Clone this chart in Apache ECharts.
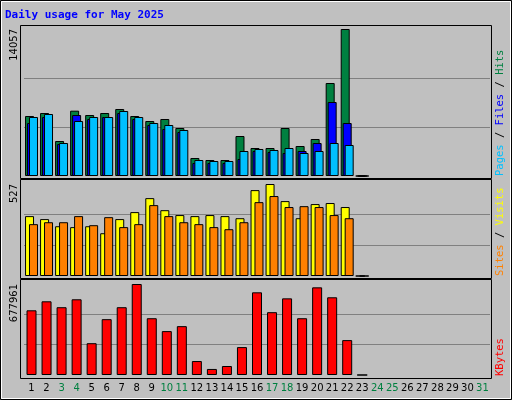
<!DOCTYPE html>
<html>
<head>
<meta charset="utf-8">
<script src="https://cdn.jsdelivr.net/npm/echarts@6.0.0/dist/echarts.min.js"></script>
<style>html,body{margin:0;padding:0;background:#c0c0c0}#chart{width:512px;height:400px}</style>
</head>
<body>
<div id="chart"></div>
<script>
"use strict";

const days = Array.from({length: 31}, (_, i) => String(i + 1));
const weekendDays = ["3", "4", "10", "11", "17", "18", "24", "25", "31"];

const hits  = [5737, 6024, 3346, 6247, 5833, 6024, 6406, 5737, 5259, 5450, 4589, 1721, 1530, 1530, 3824, 2677, 2677, 4589, 2868, 3538, 8892, 14057, 0];
const files = [5067, 5641, 3060, 5833, 5450, 5641, 6024, 5450, 4876, 4494, 4207, 1243, 1243, 1243, 1625, 2390, 2295, 2199, 2390, 3155, 7075, 5067, 0];
const pages = [5641, 5928, 3155, 5259, 5641, 5641, 6215, 5641, 5067, 4876, 4398, 1530, 1434, 1434, 2390, 2582, 2486, 2677, 2199, 2390, 3155, 2964, 0];

const visits = [343, 326, 285, 280, 285, 245, 326, 366, 446, 377, 349, 343, 349, 343, 331, 492, 527, 429, 331, 412, 418, 395, 0];
const sites  = [297, 308, 308, 343, 291, 337, 280, 297, 406, 343, 308, 297, 280, 268, 308, 423, 458, 395, 400, 395, 349, 331, 0];

const kbytes = [482000, 549000, 505000, 564000, 237000, 416000, 505000, 677961, 423000, 327000, 364000, 104000, 45000, 67000, 208000, 616000, 468000, 571000, 423000, 653000, 579000, 260000, 0];

const maxLabels = ["14057", "527", "677961"];
const panelMax = [14057, 527, 677961];

const chart = echarts.init(document.getElementById("chart"));

// grid boxes in pixels: [top, height]
const panels = [[29, 147], [184, 92], [284, 91]];

function xAxis(idx, showLabels) {
    return {
        type: "category", gridIndex: idx, data: days,
        axisLine: {show: false}, axisTick: {show: false},
        axisLabel: {
            show: showLabels, margin: 8, interval: 0,
            fontFamily: "DejaVu Sans", fontSize: 10,
            color: (v) => weekendDays.includes(v) ? "#008040" : "#000"
        }
    };
}

function yAxis(idx) {
    return {
        type: "value", gridIndex: idx, min: 0, max: panelMax[idx], interval: panelMax[idx] / 3,
        axisLabel: {show: false}, axisLine: {show: false}, axisTick: {show: false},
        splitLine: {show: true, lineStyle: {color: ["transparent", "#808080", "#808080", "transparent"], width: 1}}
    };
}

function bars(name, data, color, idx, gap, width) {
    return {
        name, type: "bar", data, xAxisIndex: idx, yAxisIndex: idx,
        barWidth: width, barGap: gap, animation: false,
        itemStyle: {color, borderColor: "#000", borderWidth: 1}
    };
}

function vlabel(x, y, parts) {
    return {
        type: "text", x, y, rotation: Math.PI / 2,
        style: {
            text: parts.map(p => "{" + p[1] + "|" + p[0] + "}").join(""),
            rich: Object.fromEntries(parts.map(p => [p[1], {fill: p[2]}])),
            font: "10.5px 'DejaVu Sans Mono'", align: "left", verticalAlign: "middle"
        }
    };
}

const frames = [[25, 153], [179, 99], [279, 99]].map(([t, h]) => ({
    type: "rect", shape: {x: 20.5, y: t + 0.5, width: 471, height: h},
    style: {fill: null, stroke: "#000", lineWidth: 1}, z: 10
}));

chart.setOption({
    backgroundColor: "#c0c0c0",
    animation: false,
    grid: panels.map(([t, h]) => ({left: 24, width: 466, top: t, height: h})),
    xAxis: [xAxis(0, false), xAxis(1, false), xAxis(2, true)],
    yAxis: [yAxis(0), yAxis(1), yAxis(2)],
    series: [
        bars("Hits", hits, "#008040", 0, "-78%", 9),
        bars("Files", files, "#0000ff", 0, "-78%", 9),
        bars("Pages", pages, "#00c0ff", 0, "-78%", 9),
        bars("Visits", visits, "#ffff00", 1, "-56%", 9),
        bars("Sites", sites, "#ff8000", 1, "-56%", 9),
        bars("KBytes", kbytes, "#ff0000", 2, "0%", 10)
    ],
    graphic: [
        {type: "rect", shape: {x: 0.5, y: 0.5, width: 511, height: 399}, style: {fill: null, stroke: "#000"}},
        {type: "rect", shape: {x: 1.5, y: 1.5, width: 509, height: 397}, style: {fill: null, stroke: "#fff"}},
        {type: "text", x: 5, y: 15, style: {text: "Daily usage for May 2025", font: "bold 11px 'DejaVu Sans Mono'", fill: "#0000ff", verticalAlign: "middle"}},
        ...frames,
        ...[[29, 0], [184, 1], [284, 2]].map(([y, i]) => ({
            type: "text", x: 14, y, rotation: Math.PI / 2,
            style: {text: maxLabels[i], font: "10px 'DejaVu Sans'", fill: "#000", align: "right", verticalAlign: "middle"}
        })),
        vlabel(500, 176, [["Pages", "p", "#00c0ff"], [" / ", "s", "#000"], ["Files", "f", "#0000ff"], [" / ", "s", "#000"], ["Hits", "h", "#008040"]]),
        vlabel(500, 276, [["Sites", "si", "#ff8000"], [" / ", "s", "#000"], ["Visits", "v", "#ffff00"]]),
        vlabel(500, 376, [["KBytes", "k", "#ff0000"]])
    ]
});
</script>
</body>
</html>
